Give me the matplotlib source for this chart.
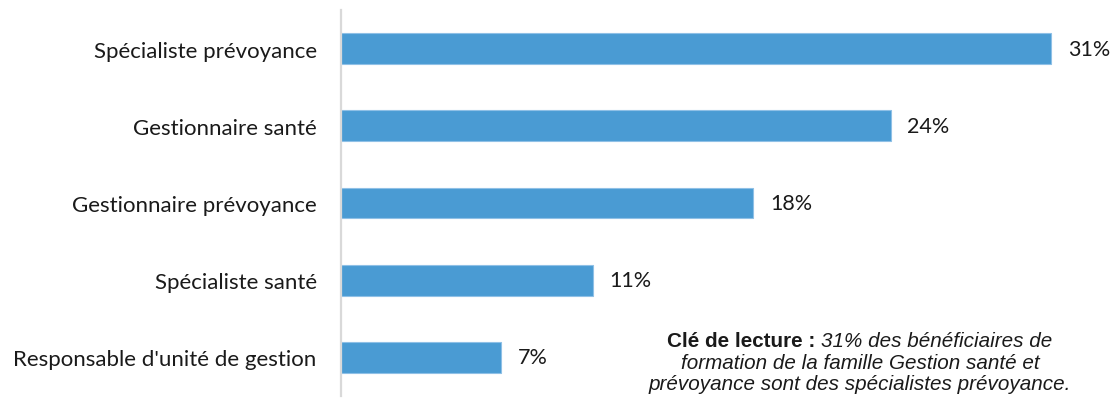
import matplotlib
matplotlib.use("Agg")
import matplotlib.pyplot as plt

categories = [
    "Spécialiste prévoyance",
    "Gestionnaire santé",
    "Gestionnaire prévoyance",
    "Spécialiste santé",
    "Responsable d'unité de gestion",
]
values = [31, 24, 18, 11, 7]
value_labels = ["31%", "24%", "18%", "11%", "7%"]

W, H = 1112, 402
fig = plt.figure(figsize=(W / 100, H / 100), dpi=100)
left_px, right_px, top_px, bottom_px = 341, 1080, 11, 397
ax = fig.add_axes([left_px / W, 1 - bottom_px / H,
                   (right_px - left_px) / W, (bottom_px - top_px) / H])

bar_color = "#4A9BD3"
ypos = list(range(len(categories)))
ax.barh(ypos, values, height=0.4, color=bar_color,
        edgecolor="#8fc0e6", linewidth=0.8)

ax.set_ylim(len(categories) - 0.5, -0.5)
ax.set_xlim(0, 31 * (right_px - left_px) / (1051 - left_px))

for y, v, lab in zip(ypos, values, value_labels):
    ax.annotate(lab, (v, y), xytext=(12, 0), textcoords="offset points",
                ha="left", va="center", fontsize=15.5, family="Lato",
                color="#1a1a1a")

ax.set_yticks(ypos)
ax.set_yticklabels(categories, fontsize=16, family="Lato", color="#1a1a1a")
ax.tick_params(axis="y", length=0, pad=17.5)
ax.set_xticks([])
for s in ["top", "right", "bottom"]:
    ax.spines[s].set_visible(False)
ax.spines["left"].set_color("#d9d9d9")
ax.spines["left"].set_linewidth(1.6)

fs = 14.9
fam = "Liberation Sans"
cx = 860
line1_y = 1 - 342 / H
# first line: bold lead followed by italic text, centred as a whole
t_bold = fig.text(0, line1_y, "Clé de lecture : ", fontsize=fs, family=fam,
                  weight="bold", va="center", ha="left", color="#1a1a1a")
t_ital = fig.text(0, line1_y, "31% des bénéficiaires de", fontsize=fs,
                  family=fam, style="italic", va="center", ha="left",
                  color="#1a1a1a")
fig.canvas.draw()
r = fig.canvas.get_renderer()
wb = t_bold.get_window_extent(r).width
wi = t_ital.get_window_extent(r).width
x0 = cx - (wb + wi) / 2
t_bold.set_x(x0 / W)
t_ital.set_x((x0 + wb) / W)

fig.text(cx / W, 1 - 363.5 / H, "formation de la famille Gestion santé et",
         fontsize=fs, family=fam, style="italic", ha="center", va="center",
         color="#1a1a1a")
fig.text(cx / W, 1 - 385 / H, "prévoyance sont des spécialistes prévoyance.",
         fontsize=fs, family=fam, style="italic", ha="center", va="center",
         color="#1a1a1a")

fig.savefig("out.png", dpi=100)
